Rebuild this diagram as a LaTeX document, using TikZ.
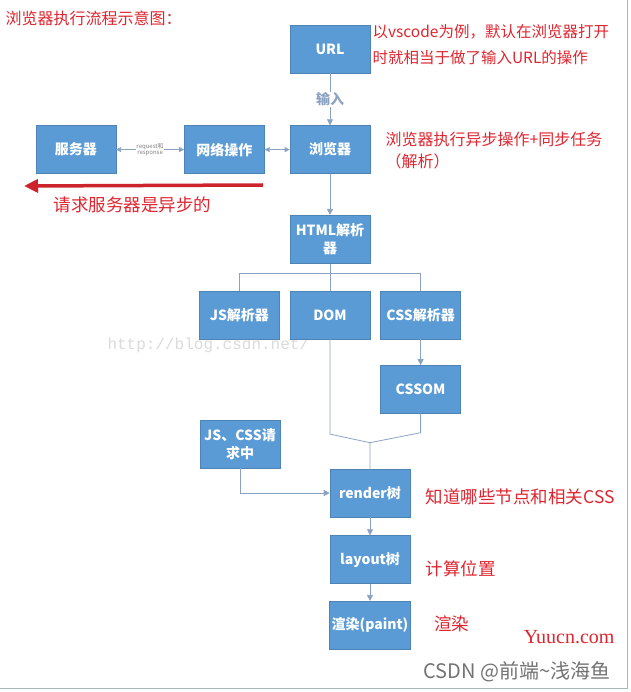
\documentclass[tikz,border=0pt]{standalone}
\usepackage{fontspec}
\setmainfont{Noto Sans CJK SC}
\newfontfamily\wmmono{Liberation Mono}
\newfontfamily\wmserif{Liberation Serif}
\usetikzlibrary{arrows.meta,positioning,calc}
\definecolor{boxblue}{RGB}{91,155,213}
\definecolor{linkgray}{RGB}{140,162,195}
\definecolor{notered}{RGB}{222,38,48}

\begin{document}
\begin{tikzpicture}[x=1pt,y=-1pt,
   b/.style={fill=boxblue,draw=boxblue!85!black,line width=0.6pt,minimum width=80pt,
             minimum height=48pt,text=white,align=center,inner sep=2pt,
             font=\fontsize{14}{17.5}\selectfont\bfseries},
   l/.style={draw=linkgray,line width=0.8pt},
   a/.style={l,-{Triangle[length=6pt,width=6pt]}},
   aa/.style={l,{Triangle[length=5pt,width=5pt]}-{Triangle[length=5pt,width=5pt]}},
   note/.style={text=notered,anchor=west,align=left,font=\fontsize{16}{22}\selectfont}]
  \fill[white] (0,0) rectangle (630,692);
  \useasboundingbox (0,0) rectangle (630,692);
  % watermarks
  \node[text=black!14,font=\fontsize{16}{16}\selectfont\wmmono,anchor=west] (wm1) at (104,345) {http://blog.csdn.net/};
  \node[text=notered,font=\fontsize{20}{20}\selectfont\wmserif,anchor=east] (wm2) at (618,637) {Yuucn.com};
  \node[text=black!55,font=\fontsize{20}{20}\selectfont,anchor=east] (wm3) at (614,672) {CSDN @前端\textasciitilde 浅海鱼};
  % boxes
  \node[b] (url) at (330,49) {URL};
  \node[b,below=52pt of url] (browser) {浏览器};
  \node[b,left=25pt of browser] (net) {网络操作};
  \node[b,left=68pt of net] (server) {服务器};
  \node[b,below=41pt of browser] (html) {HTML解析\\器};
  \node[b,below=27pt of html] (dom) {DOM};
  \node[b,left=10pt of dom] (jsp) {JS解析器};
  \node[b,right=10pt of dom] (cssp) {CSS解析器};
  \node[b,below=26pt of cssp] (cssom) {CSSOM};
  \node[b] (render) at (370,493) {render树};
  \node[b,below=18pt of render] (layout) {layout树};
  \node[b,below=17pt of layout] (paint) {渲染(paint)};
  \node[b] (jscss) at (240,444) {JS、CSS请\\求中};
  % links
  \draw[a] (url) -- node[fill=white,text=linkgray,inner sep=1pt,font=\fontsize{14}{14}\selectfont\bfseries]{输入} (browser);
  \draw[aa] (server) -- node[fill=white,text=black!50,inner sep=0.5pt,align=center,font=\fontsize{6}{6.5}\selectfont]{request和\\response} (net);
  \draw[aa] (net) -- (browser);
  \draw[a] (browser) -- (html);
  \draw[l] (html.south) -- ++(0,10) coordinate (fork);
  \draw[l] (jsp.north) |- (fork) -| (cssp.north);
  \draw[l] (fork) -- (dom.north);
  \draw[a] (cssp) -- (cssom);
  \coordinate (merge) at ($(render.north)+(0,-26)$);
  \draw[l] (dom.south) -- ++(0,95) -- (merge);
  \draw[l] (cssom.south) -- ++(0,19) -- (merge) -- (render.north);
  \draw[a] (jscss.south) |- (render.west);
  \draw[a] (render) -- (layout);
  \draw[a] (layout) -- (paint);
  % async request arrow
  \coordinate (reqfrom) at (263,185);
  \coordinate (reqto) at (24,186);
  \draw[notered!92!black,line width=3.5pt,-{Triangle[length=14pt,width=13pt]}] (reqfrom) -- (reqto);
  % notes
  \node[note] (title) at (2,18) {浏览器执行流程示意图：};
  \node[note,font=\fontsize{15.5}{26}\selectfont] (vsnote) at (369,45) {以vscode为例，默认在浏览器打开\\时就相当于做了输入URL的操作};
  \node[note] (bnote) at (382,151) {浏览器执行异步操作+同步任务\\（解析）};
  \node[note,font=\fontsize{17.5}{20}\selectfont] (anote) at (50,205) {请求服务器是异步的};
  \node[note,font=\fontsize{17.5}{20}\selectfont,right=12pt of render,yshift=-4pt] (rnote) {知道哪些节点和相关CSS};
  \node[note,font=\fontsize{17.5}{20}\selectfont,right=12pt of layout,yshift=-9pt] (lnote) {计算位置};
  \node[note,font=\fontsize{17.5}{20}\selectfont,right=20pt of paint,yshift=1pt] (pnote) {渲染};
  % frame
  \draw[draw=teal!30!gray!55,line width=1pt] (627,0) -- (627,688) -- (0,688);
\end{tikzpicture}
\end{document}
